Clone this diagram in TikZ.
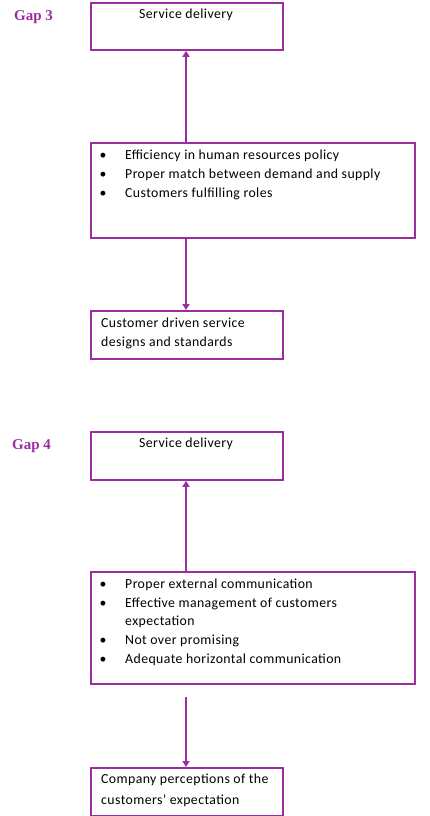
\documentclass[tikz,border=0pt]{standalone}
\usepackage{fontspec}
\setmainfont{Carlito}[LetterSpace=3]
\newfontfamily\gapfont{Liberation Serif}
\usetikzlibrary{arrows.meta}
\definecolor{gappurple}{RGB}{155,45,160}
\tikzset{
  box/.style={draw=gappurple, line width=1.8pt, rectangle, inner sep=0pt, anchor=north west},
  conn/.style={draw=gappurple, line width=1.8pt, -{Triangle[width=7pt,length=6pt]}},
  txt/.style={font=\fontsize{13.8}{15}\selectfont, inner sep=0pt, anchor=west},
  bul/.style={font=\fontsize{13.8}{15}\selectfont, inner sep=0pt},
  gaplabel/.style={font=\gapfont\bfseries\fontsize{15}{16}\selectfont, text=gappurple, inner sep=0pt, anchor=west}
}
\begin{document}
\begin{tikzpicture}[x=1pt,y=-1pt]
\useasboundingbox (0,0) rectangle (430,816);
% Gap 3
\node[gaplabel] (g3) at (14,17) {Gap 3};
\node[box, minimum width=192pt, minimum height=47pt] (b1) at (90,2) {};
\node[font=\fontsize{13.8}{15}\selectfont, inner sep=0pt] (t1) at (186,15) {Service delivery};
\node[box, minimum width=324pt, minimum height=95pt] (b2) at (90,142) {};
\node[bul] (u21) at (103,156) {•};
\node[txt] (t21) at (125,156) {Efficiency in human resources policy};
\node[bul] (u22) at (103,175) {•};
\node[txt] (t22) at (125,175) {Proper match between demand and supply};
\node[bul] (u23) at (103,194) {•};
\node[txt] (t23) at (125,194) {Customers fulfilling roles};
\node[box, minimum width=192pt, minimum height=48pt] (b3) at (90,310) {};
\node[txt] (t31) at (101,323) {Customer driven service};
\node[txt] (t32) at (101,343) {designs and standards};
\draw[conn] (b2.north -| 186,0) -- (b1.south -| 186,0);
\draw[conn] (b2.south -| 186,0) -- (b3.north -| 186,0);
% Gap 4
\node[gaplabel] (g4) at (12,446) {Gap 4};
\node[box, minimum width=192pt, minimum height=48pt] (b4) at (90,431) {};
\node[font=\fontsize{13.8}{15}\selectfont, inner sep=0pt] (t4) at (186,444) {Service delivery};
\node[box, minimum width=324pt, minimum height=112pt] (b5) at (90,571) {};
\node[bul] (u51) at (103,585) {•};
\node[txt] (t51) at (125,585) {Proper external communication};
\node[bul] (u52) at (103,604) {•};
\node[txt] (t52) at (125,604) {Effective management of customers};
\node[txt] (t52b) at (125,622) {expectation};
\node[bul] (u53) at (103,641) {•};
\node[txt] (t53) at (125,641) {Not over promising};
\node[bul] (u54) at (103,660) {•};
\node[txt] (t54) at (125,660) {Adequate horizontal communication};
\node[box, minimum width=192pt, minimum height=48pt] (b6) at (90,767) {};
\node[txt] (t61) at (101,780) {Company perceptions of the};
\node[txt] (t62) at (101,801) {customers’ expectation};
\draw[conn] (b5.north -| 186,0) -- (b4.south -| 186,0);
\coordinate (s5) at ([yshift=-12pt]b5.south -| 186,0);
\draw[conn] (s5) -- (b6.north -| 186,0);
\end{tikzpicture}
\end{document}
